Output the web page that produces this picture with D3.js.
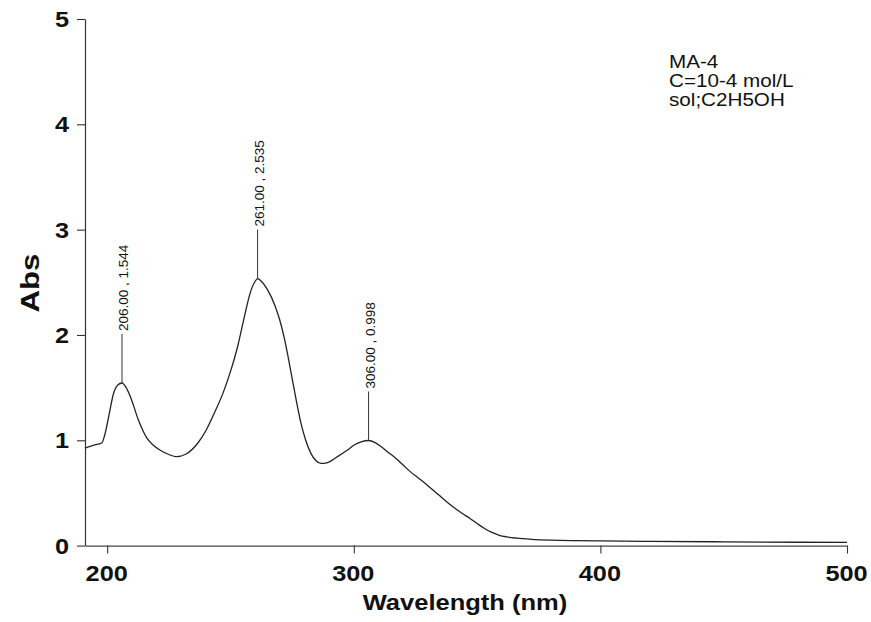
<!DOCTYPE html>
<html>
<head>
<meta charset="utf-8">
<script src="https://cdn.jsdelivr.net/npm/d3@7"></script>
<style>
  html, body { margin: 0; padding: 0; background: #ffffff; }
  svg { display: block; }
  text { font-family: "Liberation Sans", Arial, Helvetica, sans-serif; fill: #111; }
</style>
</head>
<body>
<svg id="chart" width="871" height="622"></svg>
<script>
// UV-Vis absorption spectrum of MA-4 in ethanol
const wavelength = [191, 194, 197.9, 199, 200.6, 202.6, 204.3, 206, 207.7, 209.4, 212.7, 216.1, 218.5, 221.5, 225, 228,
  232, 236.7, 240, 243.4, 247, 250.2, 253, 255.6, 258, 260, 261, 262.5, 265, 268, 270, 272, 274.5, 276.5, 278.6,
  280.5, 282.6, 284.5, 286.7, 289, 293.4, 297, 300.2, 303, 306, 308.5, 311, 314, 317, 320, 323, 326, 329,
  332, 335, 338, 341, 344, 347, 350, 353, 356, 359, 362, 366, 372, 380, 390, 400, 420, 450, 480, 500];
const absorbance = [0.926, 0.95, 0.977, 1.05, 1.224, 1.446, 1.525, 1.544, 1.50, 1.414, 1.19, 1.02, 0.958, 0.905, 0.865, 0.845,
  0.87, 0.972, 1.09, 1.256, 1.45, 1.668, 1.90, 2.17, 2.40, 2.51, 2.535, 2.51, 2.43, 2.28, 2.14, 1.95, 1.65, 1.40, 1.16,
  1.00, 0.876, 0.81, 0.78, 0.785, 0.845, 0.90, 0.955, 0.985, 0.998, 0.98, 0.94, 0.885, 0.83, 0.765, 0.70, 0.645, 0.59,
  0.53, 0.47, 0.41, 0.355, 0.305, 0.26, 0.21, 0.163, 0.125, 0.098, 0.083, 0.071, 0.06, 0.052, 0.047, 0.044, 0.04, 0.036, 0.032, 0.03];

// labelled absorption maxima
const peakWl = [206, 261, 306];
const peakAbs = [1.544, 2.535, 0.998];
const peakLabels = ["206.00 , 1.544", "261.00 , 2.535", "306.00 , 0.998"];

const xTicks = [200, 300, 400, 500];
const yTicks = [0, 1, 2, 3, 4, 5];
const infoLines = ["MA-4", "C=10-4 mol/L", "sol;C2H5OH"];

const svg = d3.select("#chart");
const x = d3.scaleLinear().domain([191, 500]).range([85, 847]);
const y = d3.scaleLinear().domain([0, 5]).range([545.6, 19]);

// x axis
const xAxis = svg.append("g").attr("transform", `translate(0,${y(0)})`)
  .call(d3.axisBottom(x).tickValues(xTicks).tickSize(8).tickSizeOuter(0).tickFormat(""));
xAxis.select(".domain").attr("stroke", "#444").attr("stroke-width", 1.4);
xAxis.selectAll(".tick line").attr("stroke", "#333").attr("stroke-width", 1.1);

// y axis
const yAxis = svg.append("g").attr("transform", `translate(${x(191)},0)`)
  .call(d3.axisLeft(y).tickValues(yTicks).tickSize(8).tickSizeOuter(0).tickFormat(""));
yAxis.select(".domain").attr("stroke", "#333").attr("stroke-width", 1.2);
yAxis.selectAll(".tick line").attr("stroke", "#333").attr("stroke-width", 1.1);

// tick labels (wide bold face)
svg.append("g").selectAll("text").data(xTicks).join("text")
  .attr("transform", d => `translate(${x(d) - 0.5},581) scale(1.15,1)`)
  .attr("text-anchor", "middle")
  .style("font-size", "22px").style("font-weight", "bold")
  .text(d => d);

svg.append("g").selectAll("text").data(yTicks).join("text")
  .attr("transform", d => `translate(69,${y(d) + 8}) scale(1.15,1)`)
  .attr("text-anchor", "end")
  .style("font-size", "22px").style("font-weight", "bold")
  .text(d => d);

// axis titles
svg.append("text")
  .attr("transform", `translate(465,610) scale(1.16,1)`)
  .attr("text-anchor", "middle")
  .style("font-size", "22px").style("font-weight", "bold")
  .text("Wavelength (nm)");

svg.append("text")
  .attr("transform", `translate(39,283) rotate(-90) scale(1.2,1)`)
  .attr("text-anchor", "middle")
  .style("font-size", "26px").style("font-weight", "bold")
  .text("Abs");

// spectrum
const line = d3.line().x((d, i) => x(wavelength[i])).y(d => y(d)).curve(d3.curveMonotoneX);
svg.append("path")
  .datum(absorbance)
  .attr("d", line)
  .attr("fill", "none")
  .attr("stroke", "#222")
  .attr("stroke-width", 1.3);

// peak markers with rotated value labels
const stem = 49;
const peaks = svg.append("g").selectAll("g").data(peakWl).join("g");
peaks.append("line")
  .attr("x1", d => x(d)).attr("x2", d => x(d))
  .attr("y1", (d, i) => y(peakAbs[i]))
  .attr("y2", (d, i) => y(peakAbs[i]) - stem)
  .attr("stroke", "#333").attr("stroke-width", 1);
peaks.append("text")
  .attr("transform", (d, i) => `translate(${x(d) + 6.5},${y(peakAbs[i]) - stem - 3}) rotate(-90)`)
  .attr("text-anchor", "start")
  .style("font-size", "13.5px")
  .text((d, i) => peakLabels[i]);

// sample information
svg.append("g").selectAll("text").data(infoLines).join("text")
  .attr("transform", (d, i) => `translate(669,${67.5 + i * 19}) scale(1.18,1)`)
  .style("font-size", "17.5px")
  .text(d => d);
</script>
</body>
</html>
